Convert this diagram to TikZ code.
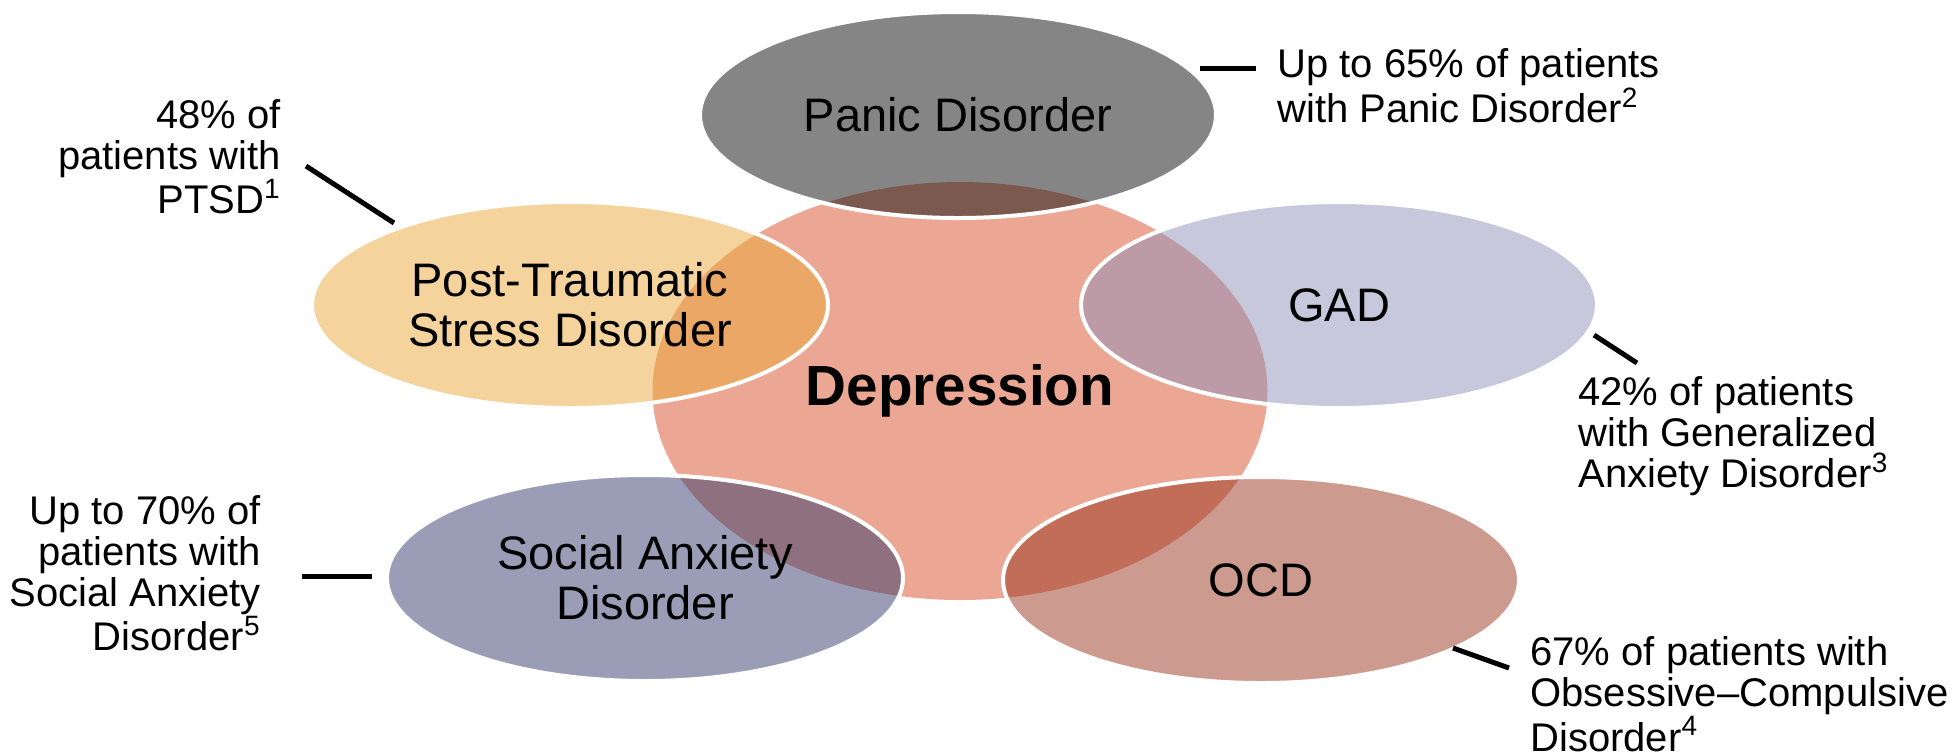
\documentclass[tikz,border=0pt]{standalone}
\usepackage{fontspec}
\setmainfont{Liberation Sans}
\usetikzlibrary{shapes.geometric}

\definecolor{deprfill}{RGB}{235,167,147}
\definecolor{panicfill}{RGB}{12,12,12}
\definecolor{ptsdfill}{RGB}{235,167,59}
\definecolor{gadfill}{RGB}{145,145,185}
\definecolor{socfill}{RGB}{53,59,107}
\definecolor{ocdfill}{RGB}{153,53,29}

\begin{document}
\begin{tikzpicture}[
  x=0.5pt, y=-0.5pt,
  sat/.style={
    ellipse, draw=white, line width=2pt, fill opacity=0.5, draw opacity=1,
    text opacity=1, minimum width=258pt, minimum height=103pt, inner sep=0pt,
    align=center, font=\fontsize{23.5}{25}\selectfont
  },
  note/.style={inner sep=0pt, font=\fontsize{20}{20.5}\selectfont},
  lead/.style={line width=2.5pt}
]
\useasboundingbox (0,0) rectangle (1955,752);

\node (depr) [ellipse, fill=deprfill, minimum width=307.5pt, minimum height=209pt,
  font=\fontsize{28.3}{30}\selectfont\bfseries] at (960,391) {Depression};

\node (panic) [sat, fill=panicfill] at (958,115) {Panic Disorder};
\node (ptsd)  [sat, fill=ptsdfill]  at (570,305) {Post-Traumatic\\Stress Disorder};
\node (gad)   [sat, fill=gadfill]   at (1339,305) {GAD};
\node (soc)   [sat, fill=socfill]   at (645,578) {Social Anxiety\\Disorder};
\node (ocd)   [sat, fill=ocdfill]   at (1261,580) {OCD};

\node (ptsdnote)  [note, anchor=north east, align=right] at (281,99)
  {48\% of\\patients with\\PTSD\textsuperscript{1}};
\node (panicnote) [note, anchor=north west, align=left] at (1277,48)
  {Up to 65\% of patients\\with Panic Disorder\textsuperscript{2}};
\node (gadnote)   [note, anchor=north west, align=left] at (1578,376)
  {42\% of patients\\with Generalized\\Anxiety Disorder\textsuperscript{3}};
\node (ocdnote)   [note, anchor=north west, align=left] at (1530,636)
  {67\% of patients with\\Obsessive--Compulsive\\Disorder\textsuperscript{4}};
\node (socnote)   [note, anchor=north east, align=right] at (261,495)
  {Up to 70\% of\\patients with\\Social Anxiety\\Disorder\textsuperscript{5}};

% lead lines between bubbles and notes
\coordinate (ptsd-a) at (306,166);
\coordinate (ptsd-b) at (394,223);
\coordinate (panic-a) at (1200,68);
\coordinate (panic-b) at (1256,68);
\coordinate (gad-a) at (1594,335);
\coordinate (gad-b) at (1637,363);
\coordinate (ocd-a) at (1453,648);
\coordinate (ocd-b) at (1509,668);
\coordinate (soc-a) at (302,576);
\coordinate (soc-b) at (372,576);

\draw[lead] (ptsd-a) -- (ptsd-b);
\draw[lead] (panic-a) -- (panic-b);
\draw[lead] (gad-a) -- (gad-b);
\draw[lead] (ocd-a) -- (ocd-b);
\draw[lead] (soc-a) -- (soc-b);
\end{tikzpicture}
\end{document}
